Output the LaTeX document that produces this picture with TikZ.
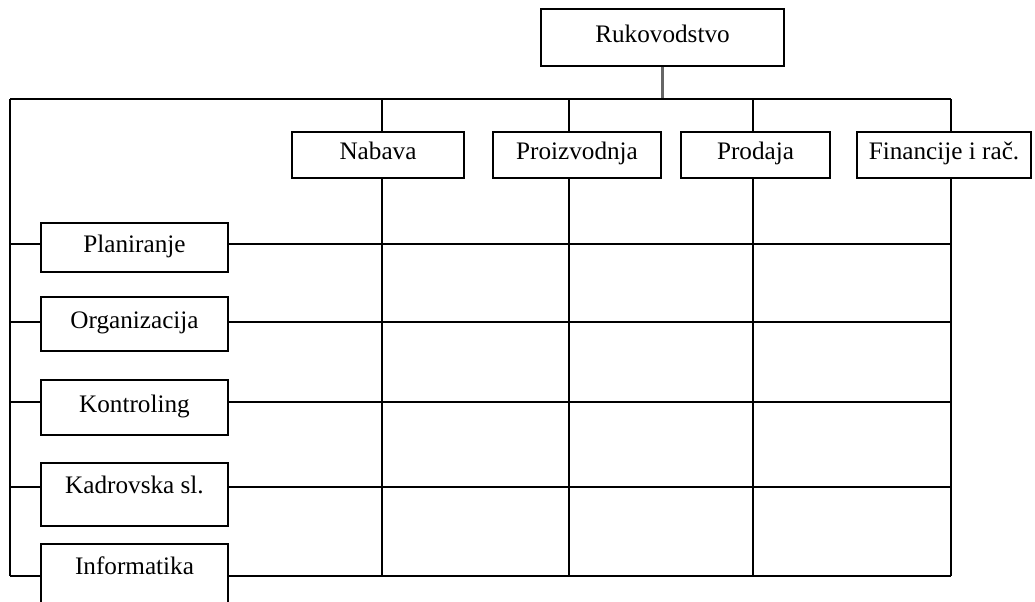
\documentclass[tikz,border=0pt]{standalone}
\usepackage{fontspec}
\setmainfont{Liberation Serif}
\usetikzlibrary{positioning}
\tikzstyle{unit}=[rectangle, draw, inner sep=0pt, text height=0.7em, text depth=0.25em]
\tikzstyle{dept}=[unit, minimum height=23pt]
\tikzstyle{staff}=[unit, minimum width=93.5pt]

\begin{document}
\begin{tikzpicture}[x=0.5pt, y=-0.5pt, line width=0.8pt, font=\fontsize{12.6}{15}\selectfont]
    \useasboundingbox (0,0) rectangle (1035,601);
    \clip (0,0) rectangle (1035,601);

    % Management.
    \node[unit, minimum width=121.5pt, minimum height=28.5pt] (ruk) at (662.5,37.5) {Rukovodstvo};

    % Line units.
    \node[dept, minimum width=86pt] (nab) at (378,155) {Nabava};
    \node[dept, minimum width=84pt] (pro) at (577,155) {Proizvodnja};
    \node[dept, minimum width=74.5pt] (prd) at (755.5,155) {Prodaja};
    \node[dept, minimum width=87pt] (fin) at (944,155) {Financije i rač.};

    % Staff units.
    \node[staff, minimum height=24.5pt] (pla) at (134.5,247.5) {Planiranje};
    \node[staff, minimum height=27pt] (org) at (134.5,324) {Organizacija};
    \node[staff, minimum height=27.5pt] (kon) at (134.5,407.5) {Kontroling};
    \node[staff, minimum height=31.5pt, text depth=0.82em] (kad) at (134.5,494.5) {Kadrovska sl.};
    \node[staff, minimum height=34pt, text depth=1.02em] (inf) at (134.5,578) {Informatika};

    % Grid.
    \coordinate (top) at (10,99);
    \coordinate (c1) at (382,99);
    \coordinate (c2) at (569,99);
    \coordinate (c3) at (753,99);
    \coordinate (c4) at (951,99);
    \coordinate (r1) at (10,244);
    \coordinate (r2) at (10,322);
    \coordinate (r3) at (10,402);
    \coordinate (r4) at (10,487);
    \coordinate (r5) at (10,576);

    \draw[black!60, line width=1.2pt] (ruk.south) -- (ruk.south |- top);
    \draw (top) -- (c4);
    \draw (top) -- (r5);

    \foreach \c/\u in {c1/nab, c2/pro, c3/prd, c4/fin} {
      \draw (\c) -- (\c |- \u.north);
      \draw (\c |- \u.south) -- (\c |- r5);
    }
    \foreach \r/\u in {r1/pla, r2/org, r3/kon, r4/kad, r5/inf} {
      \draw (\r) -- (\u.west |- \r);
      \draw (\u.east |- \r) -- (c4 |- \r);
    }
\end{tikzpicture}
\end{document}
